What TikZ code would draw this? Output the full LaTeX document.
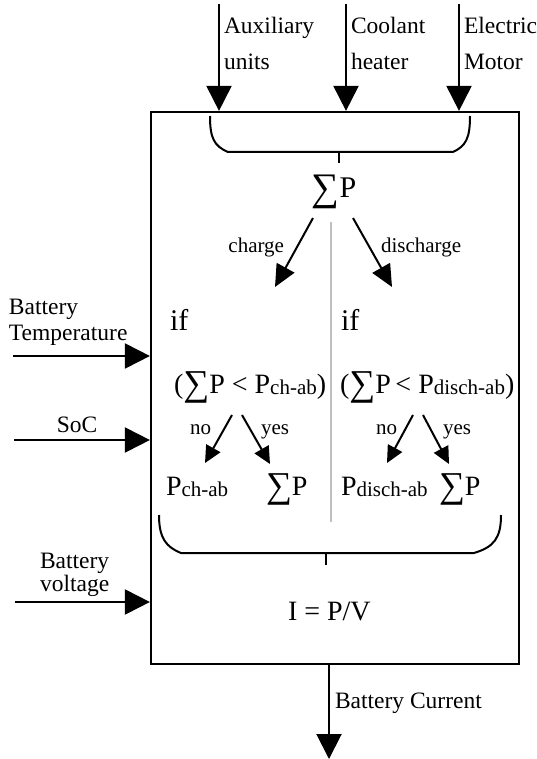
\documentclass[tikz,border=0pt]{standalone}
\usepackage{fontspec}
\usepackage{graphicx}
\setmainfont{Liberation Serif}
\usetikzlibrary{arrows.meta}
\newcommand{\subtxt}[1]{{\fontsize{21}{25}\selectfont\raisebox{-1pt}{#1}}}
\newcommand{\Sg}{\raisebox{-0.1em}{\scalebox{1.3}{∑}}}
\begin{document}
\begin{tikzpicture}[x=1pt,y=-1pt,
  line width=2pt,
  bigarrow/.style={-{Triangle[length=25pt,width=25pt]}},
  midarrow/.style={-{Triangle[length=22pt,width=20pt]}},
  smallarrow/.style={-{Triangle[length=17pt,width=16pt]}},
  lab/.style={inner sep=0pt,font=\fontsize{23.5}{28}\selectfont},
  small/.style={inner sep=0pt,font=\fontsize{21}{25}\selectfont},
  form/.style={inner sep=0pt,font=\fontsize{28}{32}\selectfont},
  iftxt/.style={inner sep=0pt,font=\fontsize{30}{34}\selectfont},
  brace/.style={line width=2pt},
  divider/.style={line width=1.2pt,black!25}
]
\useasboundingbox (0,0) rectangle (536,759);

% main box
\node[draw,line width=2.2pt,minimum width=368pt,minimum height=552pt,inner sep=0pt] (box) at (335,388) {};

% top inputs
\coordinate (aux) at (219,4);
\coordinate (cool) at (346,4);
\coordinate (elec) at (459,4);
\draw[bigarrow] (aux) -- (aux |- box.north);
\draw[bigarrow] (cool) -- (cool |- box.north);
\draw[bigarrow] (elec) -- (elec |- box.north);
\node[lab,anchor=base west] (auxA) at (223,34) {Auxiliary};
\node[lab,anchor=base west] (auxB) at (223,70) {units};
\node[lab,anchor=base west] (coolA) at (350,34) {Coolant};
\node[lab,anchor=base west] (coolB) at (350,70) {heater};
\node[lab,anchor=base west] (elecA) at (463,34) {Electric};
\node[lab,anchor=base west] (elecB) at (463,70) {Motor};

% top brace
\draw[brace] (210,116) .. controls (210,138) and (214,146) .. (228,152) -- (453,152)
  .. controls (466,146) and (470,138) .. (470,116);
\coordinate (tb1) at (339,152);
\coordinate (tb2) at (339,163);
\draw[brace] (tb1) -- (tb2);

\node[form,font=\fontsize{30}{34}\selectfont,anchor=base] (sumP) at (334,198) {\Sg P};

% charge / discharge
\coordinate (chS) at (313,218);
\coordinate (chE) at (275,287);
\coordinate (dchS) at (353,218);
\coordinate (dchE) at (392,287);
\draw[midarrow] (chS) -- (chE);
\draw[midarrow] (dchS) -- (dchE);
\node[small,anchor=base east] (charge) at (285,252) {charge};
\node[small,anchor=base west] (discharge) at (380,252) {discharge};

% divider
\coordinate (dv1) at (331,222);
\coordinate (dv2) at (331,522);
\draw[divider] (dv1) -- (dv2);

% if
\node[iftxt,anchor=base west] (ifL) at (169,330) {if};
\node[iftxt,anchor=base west] (ifR) at (340,330) {if};
\node[form,anchor=base west] (condL) at (173,393) {(\Sg P < P\subtxt{ch-ab})};
\node[form,anchor=base west] (condR) at (339,393) {(\Sg P\,< P\subtxt{disch-ab})};

% no/yes left
\coordinate (nLS) at (232,415);
\coordinate (nLE) at (205,463);
\coordinate (yLS) at (242,415);
\coordinate (yLE) at (270,464);
\draw[smallarrow] (nLS) -- (nLE);
\draw[smallarrow] (yLS) -- (yLE);
\node[small,anchor=base east] (noL) at (212,434) {no};
\node[small,anchor=base west] (yesL) at (260,434) {yes};
% no/yes right
\coordinate (nRS) at (413,415);
\coordinate (nRE) at (387,463);
\coordinate (yRS) at (423,415);
\coordinate (yRE) at (449,464);
\draw[smallarrow] (nRS) -- (nRE);
\draw[smallarrow] (yRS) -- (yRE);
\node[small,anchor=base east] (noR) at (398,434) {no};
\node[small,anchor=base west] (yesR) at (442,434) {yes};

% results
\node[form,anchor=base west] (resLa) at (165,495) {P\subtxt{ch-ab}};
\node[form,anchor=base west] (resLb) at (265,495) {\Sg P};
\node[form,anchor=base west] (resRa) at (340,495) {P\subtxt{disch-ab}};
\node[form,anchor=base west] (resRb) at (438,495) {\Sg P};

% lower brace
\draw[brace] (159,515) .. controls (159,538) and (166,547) .. (181,553) -- (474,553)
  .. controls (494,547) and (501,538) .. (501,515);
\coordinate (lb1) at (326,553);
\coordinate (lb2) at (326,565);
\draw[brace] (lb1) -- (lb2);

\node[form,anchor=base west] (ipv) at (287,620) {I = P/V};

% left inputs
\node[lab,anchor=base west] (btA) at (8,314) {Battery};
\node[lab,anchor=base west] (btB) at (8,340) {Temperature};
\coordinate (bt) at (13,356);
\draw[bigarrow] (bt) -- (bt -| box.west);
\node[lab,anchor=base] (soc) at (77,432) {SoC};
\coordinate (sc) at (14,440);
\draw[bigarrow] (sc) -- (sc -| box.west);
\node[lab,anchor=base west] (bvA) at (39,568) {Battery};
\node[lab,anchor=base west] (bvB) at (39,591) {voltage};
\coordinate (bv) at (15,602);
\draw[bigarrow] (bv) -- (bv -| box.west);

% output
\coordinate (outE) at (329,759);
\draw[bigarrow] (outE |- box.south) -- (outE);
\node[lab,anchor=base west] (bc) at (334,708) {Battery Current};
\end{tikzpicture}
\end{document}
